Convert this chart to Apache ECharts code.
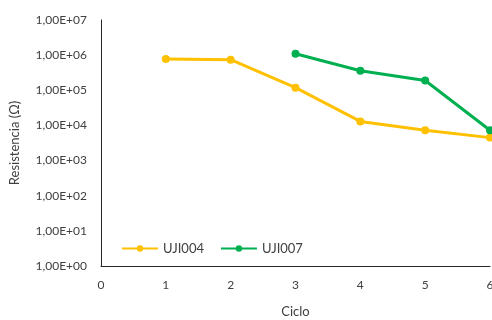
<!DOCTYPE html>
<html>
<head>
<meta charset="utf-8">
<script src="https://cdn.jsdelivr.net/npm/echarts@6/dist/echarts.min.js"></script>
<style>
  html, body { margin: 0; padding: 0; background: #fff; }
  #chart { width: 492px; height: 320px; }
</style>
</head>
<body>
<div id="chart"></div>
<script>
// Resistance per cycle for two samples (log scale)
const ciclos = [1, 2, 3, 4, 5, 6];
const uji004 = [780000, 740000, 119000, 13000, 7300, 4500];
const uji007 = [null, null, 1100000, 360000, 190000, 7300];
const seriesNames = ['UJI004', 'UJI007'];
const seriesColors = ['#FFC000', '#00B050'];

function sci(v) {
  const e = Math.round(Math.log10(v));
  const m = v / Math.pow(10, e);
  const exp = (e < 0 ? '-' : '+') + String(Math.abs(e)).padStart(2, '0');
  return m.toFixed(2).replace('.', ',') + 'E' + exp;
}

const textColor = '#404040';
const font = 'Lato';

const chart = echarts.init(document.getElementById('chart'));
chart.setOption({
  animation: false,
  textStyle: { fontFamily: font },
  grid: { left: 101, right: 2, top: 20, bottom: 54, containLabel: false, outerBoundsMode: 'none' },
  legend: {
    left: 116, top: 237,
    itemWidth: 36, itemHeight: 8, itemGap: 16,
    textStyle: { color: textColor, fontSize: 13, fontFamily: font },
    data: seriesNames
  },
  xAxis: {
    type: 'value', min: 0, max: 6, interval: 1,
    name: 'Ciclo', nameLocation: 'middle', nameGap: 39,
    nameTextStyle: { color: textColor, fontSize: 13, fontFamily: font },
    axisLine: { lineStyle: { color: '#262626', width: 1 } },
    axisTick: { show: false },
    axisLabel: { color: textColor, fontSize: 12, margin: 13 },
    splitLine: { show: false }
  },
  yAxis: {
    type: 'log', logBase: 10, min: 1, max: 1e7,
    name: 'Resistencia (Ω)', nameLocation: 'middle', nameGap: 80, nameRotate: 90,
    nameTextStyle: { color: textColor, fontSize: 13, fontFamily: font },
    axisLine: { show: true, lineStyle: { color: '#262626', width: 1 } },
    axisTick: { show: false },
    axisLabel: { color: textColor, fontSize: 12, margin: 14, formatter: sci },
    splitLine: { show: false }
  },
  series: [
    {
      name: seriesNames[0], type: 'line',
      data: ciclos.map((c, i) => [c, uji004[i]]),
      symbol: 'circle', symbolSize: 8,
      itemStyle: { color: seriesColors[0] },
      lineStyle: { color: seriesColors[0], width: 3 }
    },
    {
      name: seriesNames[1], type: 'line',
      data: ciclos.map((c, i) => [c, uji007[i]]).filter(p => p[1] !== null),
      symbol: 'circle', symbolSize: 8,
      itemStyle: { color: seriesColors[1] },
      lineStyle: { color: seriesColors[1], width: 3 }
    }
  ]
});
</script>
</body>
</html>
